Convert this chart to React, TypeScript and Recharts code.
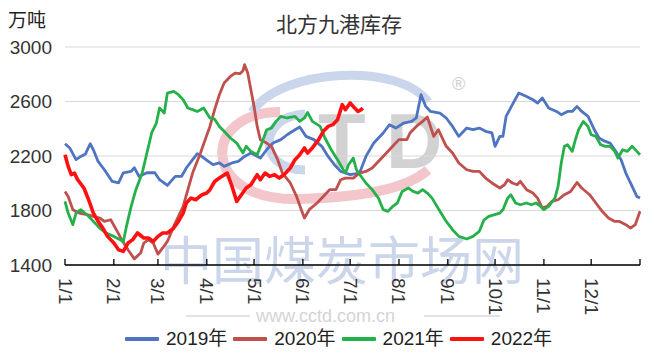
import { LineChart, Line, XAxis, YAxis, CartesianGrid } from "recharts";

// day of year (0 = 1/1) and stock level (万吨)
const days2019 = [0, 3, 7, 10, 13, 16, 18, 21, 25, 30, 34, 37, 42, 44, 47, 52, 57, 60, 65, 70, 74, 77, 81, 84, 88, 91, 94, 98, 101, 106, 110, 114, 118, 124, 128, 132, 137, 141, 146, 149, 153, 158, 163, 167, 171, 175, 178, 181, 187, 191, 196, 202, 206, 210, 215, 220, 223, 226, 229, 232, 238, 242, 246, 250, 255, 259, 263, 267, 271, 273, 276, 278, 280, 284, 288, 293, 297, 300, 303, 307, 312, 315, 319, 322, 325, 328, 332, 336, 339, 343, 346, 349, 353, 356, 360, 363, 365];
const vals2019 = [2290, 2259, 2173, 2197, 2215, 2290, 2246, 2160, 2099, 2013, 2003, 2077, 2087, 2114, 2050, 2077, 2077, 2026, 1984, 2050, 2050, 2112, 2173, 2217, 2187, 2160, 2136, 2149, 2124, 2149, 2160, 2197, 2222, 2185, 2246, 2295, 2320, 2356, 2393, 2413, 2344, 2320, 2271, 2197, 2136, 2087, 2075, 2063, 2075, 2197, 2295, 2369, 2430, 2405, 2442, 2454, 2479, 2650, 2564, 2527, 2515, 2479, 2417, 2344, 2405, 2393, 2405, 2381, 2369, 2271, 2344, 2344, 2491, 2577, 2662, 2637, 2613, 2589, 2626, 2552, 2527, 2503, 2527, 2527, 2564, 2527, 2491, 2393, 2332, 2307, 2295, 2246, 2173, 2075, 1977, 1903, 1891];

const days2020 = [0, 2, 5, 9, 14, 18, 22, 25, 29, 32, 36, 40, 44, 48, 50, 53, 56, 59, 62, 65, 69, 72, 75, 78, 81, 86, 89, 92, 95, 98, 101, 105, 108, 111, 113, 114, 116, 118, 120, 122, 124, 128, 131, 135, 138, 143, 147, 150, 152, 155, 160, 164, 168, 172, 175, 178, 183, 187, 191, 195, 200, 204, 208, 212, 217, 219, 223, 227, 230, 232, 234, 237, 239, 242, 246, 250, 255, 259, 263, 267, 271, 276, 279, 281, 284, 287, 289, 293, 297, 300, 303, 306, 309, 313, 317, 321, 325, 328, 333, 337, 341, 345, 349, 352, 356, 359, 362, 365];
const vals2020 = [1940, 1903, 1806, 1781, 1769, 1757, 1745, 1720, 1732, 1671, 1586, 1512, 1445, 1488, 1561, 1586, 1561, 1480, 1525, 1573, 1683, 1757, 1830, 1953, 2075, 2222, 2320, 2417, 2540, 2650, 2736, 2784, 2809, 2804, 2826, 2870, 2809, 2687, 2564, 2417, 2320, 2295, 2271, 2173, 2075, 2002, 1903, 1806, 1745, 1806, 1855, 1903, 1953, 1953, 2026, 2038, 2038, 2075, 2087, 2112, 2173, 2222, 2271, 2320, 2320, 2369, 2417, 2454, 2486, 2417, 2344, 2393, 2344, 2271, 2222, 2149, 2099, 2087, 2087, 2038, 2002, 1965, 1989, 2026, 2002, 1989, 2014, 1953, 1928, 1891, 1818, 1830, 1867, 1879, 1916, 1940, 2006, 1965, 1916, 1855, 1794, 1745, 1720, 1720, 1696, 1671, 1696, 1794];

const days2021 = [0, 2, 5, 7, 10, 14, 18, 22, 26, 31, 35, 37, 39, 42, 45, 49, 52, 55, 58, 60, 63, 65, 69, 72, 75, 78, 81, 84, 88, 92, 95, 98, 101, 105, 109, 113, 115, 118, 122, 125, 128, 131, 134, 137, 141, 146, 149, 152, 154, 157, 162, 165, 169, 173, 176, 178, 180, 183, 185, 188, 191, 195, 199, 202, 205, 208, 211, 214, 218, 221, 224, 227, 230, 233, 238, 242, 246, 250, 255, 259, 263, 266, 269, 276, 278, 281, 283, 286, 289, 293, 296, 299, 302, 304, 307, 311, 313, 315, 317, 319, 322, 324, 326, 329, 332, 334, 337, 340, 343, 346, 349, 351, 354, 357, 360, 363, 365];
const vals2021 = [1867, 1781, 1696, 1781, 1806, 1769, 1720, 1671, 1635, 1610, 1586, 1570, 1683, 1830, 1953, 2075, 2222, 2369, 2442, 2552, 2515, 2662, 2674, 2650, 2613, 2552, 2540, 2527, 2552, 2479, 2470, 2417, 2381, 2332, 2295, 2222, 2271, 2234, 2209, 2295, 2393, 2405, 2454, 2491, 2479, 2491, 2454, 2479, 2520, 2454, 2417, 2332, 2246, 2173, 2112, 2075, 2136, 2185, 2099, 2050, 2002, 1953, 1891, 1806, 1794, 1830, 1855, 1940, 1965, 1940, 1928, 1953, 1928, 1891, 1794, 1720, 1659, 1610, 1591, 1610, 1647, 1732, 1757, 1781, 1806, 1891, 1916, 1855, 1842, 1855, 1842, 1855, 1830, 1806, 1830, 1891, 1977, 2149, 2271, 2283, 2234, 2320, 2393, 2454, 2417, 2356, 2344, 2283, 2271, 2271, 2234, 2185, 2246, 2234, 2271, 2234, 2209];

const days2022 = [0, 2, 4, 6, 8, 12, 15, 18, 21, 24, 27, 31, 34, 37, 40, 43, 46, 50, 53, 56, 59, 62, 65, 69, 72, 75, 77, 80, 83, 87, 90, 92, 95, 98, 103, 106, 109, 112, 115, 118, 122, 124, 127, 130, 133, 136, 139, 143, 146, 149, 152, 154, 157, 161, 164, 167, 170, 173, 176, 178, 181, 183, 186, 188, 189];
const vals2022 = [2209, 2124, 2063, 2075, 2026, 1965, 1879, 1781, 1720, 1671, 1610, 1561, 1512, 1500, 1561, 1586, 1635, 1598, 1598, 1573, 1610, 1635, 1635, 1671, 1720, 1781, 1855, 1891, 1879, 1916, 1928, 1953, 2013, 2038, 2075, 1977, 1867, 1916, 1965, 1989, 2063, 2026, 2075, 2050, 2063, 2038, 2063, 2112, 2173, 2209, 2259, 2222, 2259, 2320, 2381, 2417, 2430, 2466, 2577, 2540, 2589, 2564, 2527, 2540, 2552];

const monthTicks = [0, 31, 59, 90, 120, 151, 181, 212, 243, 273, 304, 334, 365];
const monthLabels = ["1/1", "2/1", "3/1", "4/1", "5/1", "6/1", "7/1", "8/1", "9/1", "10/1", "11/1", "12/1", ""];
const yTicks = [1400, 1800, 2200, 2600, 3000];

const seriesNames = ["2019年", "2020年", "2021年", "2022年"];
const seriesColors = ["#4e74c2", "#c0504d", "#26b04a", "#ff1111"];

const toRows = (d: number[], v: number[]) => d.map((day, i) => ({ day, value: v[i] }));
const series = [
  toRows(days2019, vals2019),
  toRows(days2020, vals2020),
  toRows(days2021, vals2021),
  toRows(days2022, vals2022),
];

const FONT = "'Liberation Sans', Arial, 'Noto Sans CJK SC', sans-serif";

function MonthTick(props: any) {
  const { x, y, payload } = props;
  const idx = monthTicks.indexOf(payload.value);
  const label = monthLabels[idx] || "";
  return (
    <g>
      <line x1={x} y1={y} x2={x} y2={y - 6} stroke="#000" strokeWidth={1.3} />
      {label && (
        <text
          transform={`translate(${x},${y + 13}) rotate(90)`}
          textAnchor="start"
          dominantBaseline="central"
          fontSize={19}
          fill="#333"
          fontFamily={FONT}
        >
          {label}
        </text>
      )}
    </g>
  );
}

function Watermark() {
  return (
    <svg width={656} height={354} style={{ position: "absolute", left: 0, top: 0 }}>
      <path d="M 280 112 C 200 112, 200 202, 300 199 C 360 197, 405 190, 428 170" fill="none" stroke="#f3c6cb" strokeWidth={10} />
      <path d="M 252 112 C 280 68, 400 62, 428 102" fill="none" stroke="#cad6ec" strokeWidth={9} />
      <path d="M 305 114 C 258 116, 256 170, 305 170" fill="none" stroke="#cad6ec" strokeWidth={9} />
      <text x={318} y={168} fontSize={78} fontWeight="bold" fill="#d2d2d2" fontFamily={FONT}>T</text>
      <text x={386} y={168} fontSize={78} fontWeight="bold" fill="#d2d2d2" fontFamily={FONT}>D</text>
      <text x={452} y={90} fontSize={18} fill="#cfcfcf" fontFamily={FONT}>®</text>
      <text x={160} y={280} fontSize={52} fill="#cbd6ea" fontFamily="'Noto Sans CJK SC', sans-serif">中国煤炭市场网</text>
      <line x1={186} y1={316} x2={250} y2={316} stroke="#dde3ee" strokeWidth={2} />
      <line x1={424} y1={316} x2={500} y2={316} stroke="#dde3ee" strokeWidth={2} />
      <text x={256} y={322} fontSize={18} fill="#d4d4d4" fontFamily={FONT}>www.cctd.com.cn</text>
    </svg>
  );
}

export default function App() {
  return (
    <div style={{ position: "absolute", left: 0, top: 0, width: 656, height: 354, background: "#fff", fontFamily: FONT }}>
      <Watermark />
      <div style={{ position: "absolute", left: 8, top: 8, fontSize: 19, color: "#222", fontFamily: "'Noto Sans CJK SC', sans-serif", lineHeight: "22px" }}>万吨</div>
      <div style={{ position: "absolute", left: 0, width: 678, top: 10, textAlign: "center", fontSize: 21, color: "#333", fontFamily: "'Noto Sans CJK SC', sans-serif", lineHeight: "26px" }}>北方九港库存</div>
      <div style={{ position: "absolute", left: 0, top: 0 }}>
        <LineChart width={656} height={354} margin={{ top: 47, right: 16, bottom: 0, left: 0 }}>
          <CartesianGrid horizontal vertical={false} stroke="#d9d9d9" strokeWidth={1.2} />
          <XAxis
            type="number"
            dataKey="day"
            domain={[0, 365]}
            ticks={monthTicks}
            interval={0}
            height={89}
            axisLine={{ stroke: "#000", strokeWidth: 1.5 }}
            tickLine={false}
            tickSize={0}
            tickMargin={0}
            tick={<MonthTick />}
            allowDuplicatedCategory={false}
          />
          <YAxis
            type="number"
            domain={[1400, 3000]}
            ticks={yTicks}
            interval={0}
            width={65}
            axisLine={false}
            tickLine={false}
            tickSize={0}
            tickMargin={13}
            tick={{ fontSize: 19, fill: "#333", fontFamily: FONT }}
          />
          {series.map((rows, i) => (
            <Line
              key={seriesNames[i]}
              data={rows}
              dataKey="value"
              name={seriesNames[i]}
              type="linear"
              stroke={seriesColors[i]}
              strokeWidth={i === 3 ? 3.6 : 2.8}
              strokeLinejoin="round"
              dot={false}
              isAnimationActive={false}
            />
          ))}
        </LineChart>
      </div>
      <div style={{ position: "absolute", left: 125, top: 328, display: "flex", alignItems: "center", fontSize: 19, color: "#222", fontFamily: FONT, lineHeight: "22px" }}>
        {seriesNames.map((n, i) => (
          <div key={n} style={{ display: "flex", alignItems: "center", marginRight: 6 }}>
            <div style={{ width: 34, height: 4, background: seriesColors[i], borderRadius: 1, marginRight: 7 }} />
            <span>{n}</span>
          </div>
        ))}
      </div>
    </div>
  );
}
